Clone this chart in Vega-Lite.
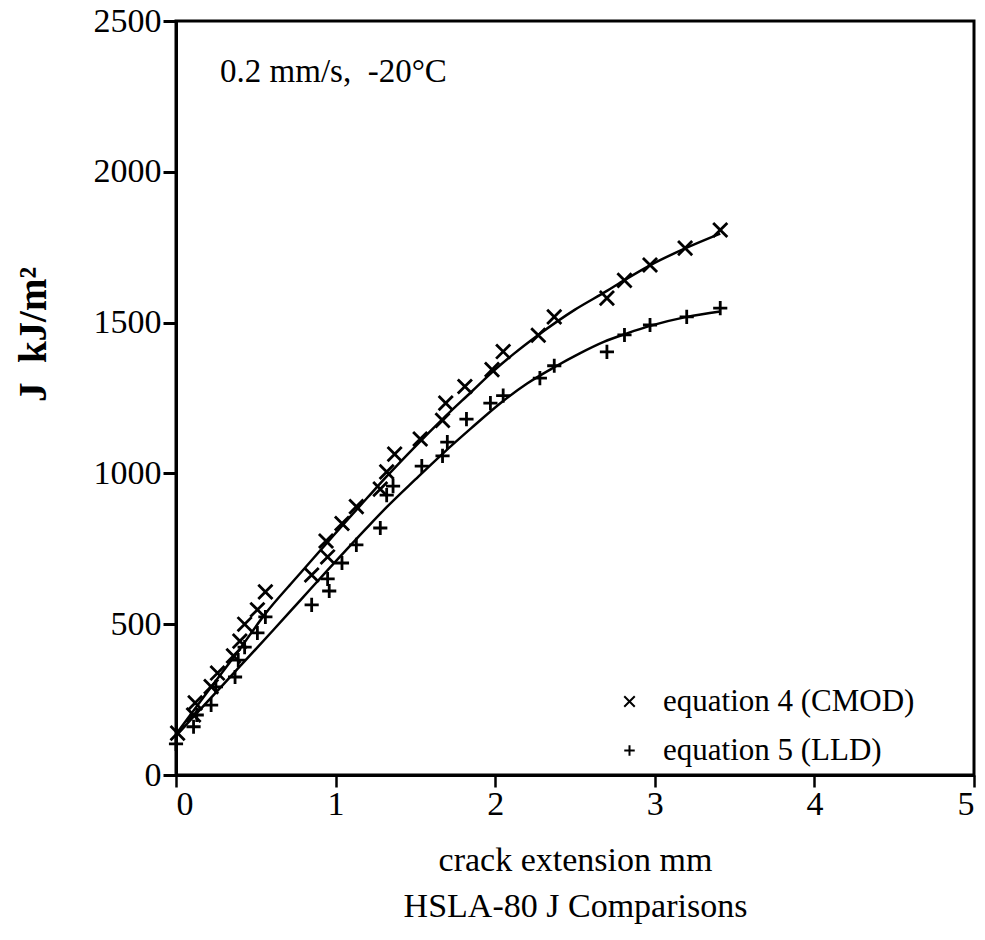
{
  "$schema": "https://vega.github.io/schema/vega-lite/v6.json",
  "width": 798,
  "height": 754,
  "autosize": {"type": "none"},
  "padding": {"left": 176, "top": 21, "right": 11, "bottom": 165},
  "background": "white",
  "config": {
    "font": "Liberation Serif",
    "view": {"stroke": "black", "strokeWidth": 3},
    "axis": {
      "grid": false,
      "domainColor": "black",
      "domainWidth": 3,
      "tickColor": "black",
      "labelColor": "black",
      "titleColor": "black",
      "labelFont": "Liberation Serif",
      "titleFont": "Liberation Serif",
      "labelFontWeight": "normal"
    },
    "legend": {
      "labelFont": "Liberation Serif",
      "labelFontSize": 31,
      "labelColor": "black",
      "labelLimit": 0
    }
  },
  "datasets": {
    "pts": [
      {"series": "equation 4 (CMOD)", "x": 0.01, "y": 139},
      {"series": "equation 4 (CMOD)", "x": 0.11, "y": 199},
      {"series": "equation 4 (CMOD)", "x": 0.12, "y": 239},
      {"series": "equation 4 (CMOD)", "x": 0.22, "y": 293},
      {"series": "equation 4 (CMOD)", "x": 0.26, "y": 338},
      {"series": "equation 4 (CMOD)", "x": 0.36, "y": 395},
      {"series": "equation 4 (CMOD)", "x": 0.40, "y": 444},
      {"series": "equation 4 (CMOD)", "x": 0.43, "y": 500},
      {"series": "equation 4 (CMOD)", "x": 0.51, "y": 548},
      {"series": "equation 4 (CMOD)", "x": 0.56, "y": 607},
      {"series": "equation 4 (CMOD)", "x": 0.85, "y": 663},
      {"series": "equation 4 (CMOD)", "x": 0.95, "y": 723},
      {"series": "equation 4 (CMOD)", "x": 0.94, "y": 776},
      {"series": "equation 4 (CMOD)", "x": 1.04, "y": 834},
      {"series": "equation 4 (CMOD)", "x": 1.13, "y": 890},
      {"series": "equation 4 (CMOD)", "x": 1.28, "y": 948},
      {"series": "equation 4 (CMOD)", "x": 1.32, "y": 1005},
      {"series": "equation 4 (CMOD)", "x": 1.37, "y": 1064},
      {"series": "equation 4 (CMOD)", "x": 1.53, "y": 1114},
      {"series": "equation 4 (CMOD)", "x": 1.67, "y": 1176},
      {"series": "equation 4 (CMOD)", "x": 1.69, "y": 1233},
      {"series": "equation 4 (CMOD)", "x": 1.81, "y": 1288},
      {"series": "equation 4 (CMOD)", "x": 1.98, "y": 1344},
      {"series": "equation 4 (CMOD)", "x": 2.05, "y": 1404},
      {"series": "equation 4 (CMOD)", "x": 2.27, "y": 1458},
      {"series": "equation 4 (CMOD)", "x": 2.37, "y": 1519},
      {"series": "equation 4 (CMOD)", "x": 2.70, "y": 1581},
      {"series": "equation 4 (CMOD)", "x": 2.81, "y": 1640},
      {"series": "equation 4 (CMOD)", "x": 2.97, "y": 1691},
      {"series": "equation 4 (CMOD)", "x": 3.19, "y": 1747},
      {"series": "equation 4 (CMOD)", "x": 3.41, "y": 1807},
      {"series": "equation 5 (LLD)", "x": 0.0, "y": 103},
      {"series": "equation 5 (LLD)", "x": 0.11, "y": 160},
      {"series": "equation 5 (LLD)", "x": 0.13, "y": 199},
      {"series": "equation 5 (LLD)", "x": 0.22, "y": 232},
      {"series": "equation 5 (LLD)", "x": 0.25, "y": 292},
      {"series": "equation 5 (LLD)", "x": 0.37, "y": 325},
      {"series": "equation 5 (LLD)", "x": 0.39, "y": 381},
      {"series": "equation 5 (LLD)", "x": 0.43, "y": 424},
      {"series": "equation 5 (LLD)", "x": 0.51, "y": 471},
      {"series": "equation 5 (LLD)", "x": 0.56, "y": 524},
      {"series": "equation 5 (LLD)", "x": 0.85, "y": 564},
      {"series": "equation 5 (LLD)", "x": 0.96, "y": 610},
      {"series": "equation 5 (LLD)", "x": 0.95, "y": 650},
      {"series": "equation 5 (LLD)", "x": 1.04, "y": 703},
      {"series": "equation 5 (LLD)", "x": 1.13, "y": 763},
      {"series": "equation 5 (LLD)", "x": 1.28, "y": 819},
      {"series": "equation 5 (LLD)", "x": 1.32, "y": 928},
      {"series": "equation 5 (LLD)", "x": 1.36, "y": 958},
      {"series": "equation 5 (LLD)", "x": 1.54, "y": 1024},
      {"series": "equation 5 (LLD)", "x": 1.67, "y": 1058},
      {"series": "equation 5 (LLD)", "x": 1.70, "y": 1104},
      {"series": "equation 5 (LLD)", "x": 1.82, "y": 1180},
      {"series": "equation 5 (LLD)", "x": 1.97, "y": 1233},
      {"series": "equation 5 (LLD)", "x": 2.05, "y": 1258},
      {"series": "equation 5 (LLD)", "x": 2.28, "y": 1316},
      {"series": "equation 5 (LLD)", "x": 2.37, "y": 1357},
      {"series": "equation 5 (LLD)", "x": 2.70, "y": 1403},
      {"series": "equation 5 (LLD)", "x": 2.81, "y": 1459},
      {"series": "equation 5 (LLD)", "x": 2.97, "y": 1492},
      {"series": "equation 5 (LLD)", "x": 3.20, "y": 1519},
      {"series": "equation 5 (LLD)", "x": 3.41, "y": 1548}
    ],
    "curves": [
      {"fit": "upper", "x": 0.0, "y": 135},
      {"fit": "upper", "x": 0.2, "y": 278},
      {"fit": "upper", "x": 0.4, "y": 418},
      {"fit": "upper", "x": 0.56, "y": 535},
      {"fit": "upper", "x": 0.73, "y": 640},
      {"fit": "upper", "x": 0.85, "y": 712},
      {"fit": "upper", "x": 0.95, "y": 772},
      {"fit": "upper", "x": 1.04, "y": 826},
      {"fit": "upper", "x": 1.2, "y": 920},
      {"fit": "upper", "x": 1.32, "y": 990},
      {"fit": "upper", "x": 1.5, "y": 1090},
      {"fit": "upper", "x": 1.67, "y": 1180},
      {"fit": "upper", "x": 1.85, "y": 1270},
      {"fit": "upper", "x": 1.98, "y": 1335},
      {"fit": "upper", "x": 2.12, "y": 1398},
      {"fit": "upper", "x": 2.27, "y": 1459},
      {"fit": "upper", "x": 2.5, "y": 1543},
      {"fit": "upper", "x": 2.7, "y": 1605},
      {"fit": "upper", "x": 2.81, "y": 1641},
      {"fit": "upper", "x": 2.97, "y": 1690},
      {"fit": "upper", "x": 3.19, "y": 1746},
      {"fit": "upper", "x": 3.41, "y": 1795},
      {"fit": "lower", "x": 0.0, "y": 130},
      {"fit": "lower", "x": 0.2, "y": 245},
      {"fit": "lower", "x": 0.4, "y": 360},
      {"fit": "lower", "x": 0.6, "y": 475},
      {"fit": "lower", "x": 0.78, "y": 580},
      {"fit": "lower", "x": 0.96, "y": 685},
      {"fit": "lower", "x": 1.2, "y": 822},
      {"fit": "lower", "x": 1.32, "y": 888},
      {"fit": "lower", "x": 1.5, "y": 980},
      {"fit": "lower", "x": 1.67, "y": 1065},
      {"fit": "lower", "x": 1.85, "y": 1150},
      {"fit": "lower", "x": 2.05, "y": 1240},
      {"fit": "lower", "x": 2.2, "y": 1298},
      {"fit": "lower", "x": 2.37, "y": 1352},
      {"fit": "lower", "x": 2.53, "y": 1398},
      {"fit": "lower", "x": 2.68, "y": 1436},
      {"fit": "lower", "x": 2.83, "y": 1465},
      {"fit": "lower", "x": 2.97, "y": 1489},
      {"fit": "lower", "x": 3.2, "y": 1519},
      {"fit": "lower", "x": 3.41, "y": 1537}
    ],
    "note": [{"x": 0.276, "y": 2331, "label": "0.2 mm/s,\u00a0\u00a0-20°C"}]
  },
  "layer": [
    {
      "data": {"name": "curves"},
      "mark": {"type": "line", "color": "black", "strokeWidth": 2.5, "interpolate": "monotone"},
      "encoding": {
        "x": {
          "field": "x", "type": "quantitative",
          "scale": {"domain": [0, 5], "nice": false, "zero": false},
          "axis": {
            "values": [0, 1, 2, 3, 4, 5],
            "format": "d",
            "tickSize": 12, "tickWidth": 2.5, "labelPadding": 0,
            "labelFontSize": 34,
            "title": ["crack extension mm", "HSLA-80 J Comparisons"],
            "titleFontSize": 34, "titleFontWeight": "normal",
            "titleBaseline": "alphabetic", "titleY": 95, "titleLineHeight": 46,
            "titleAnchor": "middle"
          }
        },
        "y": {
          "field": "y", "type": "quantitative",
          "scale": {"domain": [0, 2500], "nice": false},
          "axis": {
            "values": [0, 500, 1000, 1500, 2000, 2500],
            "format": "d",
            "tickSize": 13, "tickWidth": 3, "labelPadding": 2,
            "labelFontSize": 34,
            "title": "J\u00a0\u00a0kJ/m²",
            "titleFontSize": 39, "titleFontWeight": "bold",
            "titleAngle": 270, "titleAlign": "center", "titleBaseline": "middle",
            "titleX": -143, "titleY": 313
          }
        },
        "detail": {"field": "fit", "type": "nominal"}
      }
    },
    {
      "data": {"name": "pts"},
      "mark": {"type": "point", "filled": false, "strokeWidth": 2.8, "color": "black", "opacity": 1},
      "encoding": {
        "x": {"field": "x", "type": "quantitative"},
        "y": {"field": "y", "type": "quantitative"},
        "shape": {
          "field": "series", "type": "nominal",
          "scale": {
            "domain": ["equation 4 (CMOD)", "equation 5 (LLD)"],
            "range": ["M-1,-1L1,1M-1,1L1,-1", "M-1,0L1,0M0,-1L0,1"]
          },
          "legend": {
            "title": null,
            "orient": "none",
            "legendX": 438,
            "legendY": 665,
            "padding": 0,
            "symbolSize": 110,
            "symbolStrokeWidth": 2,
            "symbolStrokeColor": "black",
            "symbolFillColor": "transparent",
            "labelOffset": 18,
            "rowPadding": 17
          }
        },
        "size": {"value": 200}
      }
    },
    {
      "data": {"name": "note"},
      "mark": {"type": "text", "align": "left", "baseline": "middle", "fontSize": 33, "font": "Liberation Serif", "color": "black"},
      "encoding": {
        "x": {"field": "x", "type": "quantitative"},
        "y": {"field": "y", "type": "quantitative"},
        "text": {"field": "label"}
      }
    }
  ]
}
